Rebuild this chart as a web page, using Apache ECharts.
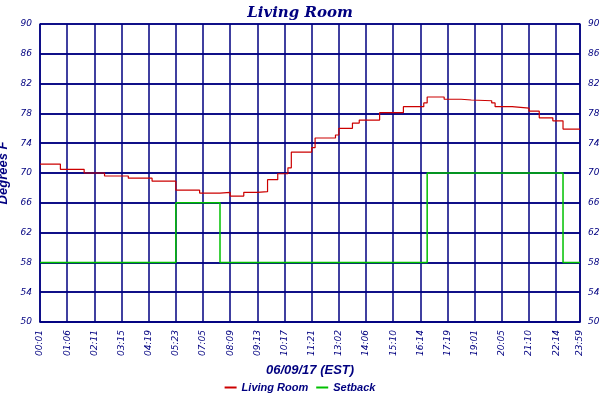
<!DOCTYPE html>
<html>
<head>
<meta charset="utf-8">
<script src="https://cdn.jsdelivr.net/npm/echarts@6/dist/echarts.min.js"></script>
<style>html,body{margin:0;background:#fff}#main{width:600px;height:400px}</style>
</head>
<body>
<div id="main"></div>
<script>
var navy = '#000080';
var tickLabels = ['00:01','01:06','02:11','03:15','04:19','05:23','07:05','08:09','09:13','10:17',
  '11:21','13:02','14:06','15:10','16:14','17:19','19:01','20:05','21:10','22:14'];
var lastLabel = '23:59';
var perTick = 8;
var nPoints = 160;

var livingRoom = [[0,71.2],[6,70.5],[13,70.0],[19,69.6],[26,69.3],[33,68.9],[40,67.7],[47,67.3],
  [53,67.4],[56,66.9],[60,67.4],[64,67.5],[67,69.1],[70,69.9],[73,70.7],[74,72.8],[80,73.4],
  [81,74.7],[87,75.1],[88,76.0],[92,76.7],[94,77.1],[100,78.1],[107,78.9],[113,79.4],[114,80.2],
  [119,79.9],[124,79.8],[127,79.7],[133,79.4],[134,78.9],[139,78.7],[144,78.3],[147,77.4],
  [151,77.0],[154,75.9],[159,75.9]];
var setback = [[0,58],[40,66],[53,58],[114,70],[154,58],[159,58]];

var categories = [];
for (var i = 0; i < nPoints; i++) {
  if (i % perTick === 0 && i / perTick < tickLabels.length) categories.push(tickLabels[i / perTick]);
  else if (i === nPoints - 1) categories.push(lastLabel);
  else categories.push('');
}

var myChart = echarts.init(document.getElementById('main'));
var labelStyle = { color: navy, fontStyle: 'italic', fontSize: 9, fontFamily: 'DejaVu Sans' };
var yAxisBase = {
  type: 'value', min: 50, max: 90, interval: 4,
  axisLine: { show: true, lineStyle: { color: navy, width: 1.5 } },
  axisTick: { show: false },
  splitLine: { show: true, lineStyle: { color: navy, width: 1.5 } }
};
myChart.setOption({
  backgroundColor: '#fff',
  animation: false,
  title: {
    text: 'Living Room', left: 'center', top: 1,
    textStyle: { color: navy, fontStyle: 'italic', fontWeight: 'bold', fontSize: 15, fontFamily: 'DejaVu Serif' }
  },
  legend: {
    bottom: 2, left: 'center', itemWidth: 12, itemHeight: 2, icon: 'rect',
    textStyle: { color: navy, fontStyle: 'italic', fontWeight: 'bold', fontSize: 11 },
    data: ['Living Room', 'Setback']
  },
  grid: { left: 40, right: 20, top: 24, bottom: 78, containLabel: false, outerBoundsMode: 'none' },
  xAxis: {
    type: 'category', data: categories, boundaryGap: false,
    name: '06/09/17 (EST)', nameLocation: 'middle', nameGap: 40,
    nameTextStyle: { color: navy, fontStyle: 'italic', fontWeight: 'bold', fontSize: 13 },
    axisLine: { lineStyle: { color: navy, width: 1.5 } },
    axisTick: { show: false },
    axisLabel: Object.assign({ rotate: 90, interval: function (i, v) { return v !== ''; } }, labelStyle),
    splitLine: { show: true, interval: function (i, v) { return v !== ''; }, lineStyle: { color: navy, width: 1.5 } }
  },
  yAxis: [
    Object.assign({ name: 'Degrees F', nameLocation: 'middle', nameGap: 24,
      nameTextStyle: { color: navy, fontStyle: 'italic', fontWeight: 'bold', fontSize: 13 },
      axisLabel: labelStyle }, yAxisBase),
    Object.assign({ position: 'right', axisLabel: labelStyle }, yAxisBase)
  ],
  series: [
    { name: 'Living Room', type: 'line', step: 'end', symbol: 'none', data: livingRoom,
      lineStyle: { color: '#cc0000', width: 1.2 }, itemStyle: { color: '#cc0000' } },
    { name: 'Setback', type: 'line', step: 'end', symbol: 'none', data: setback,
      lineStyle: { color: '#00c000', width: 1.5 }, itemStyle: { color: '#00c000' } }
  ]
});
</script>
</body>
</html>
